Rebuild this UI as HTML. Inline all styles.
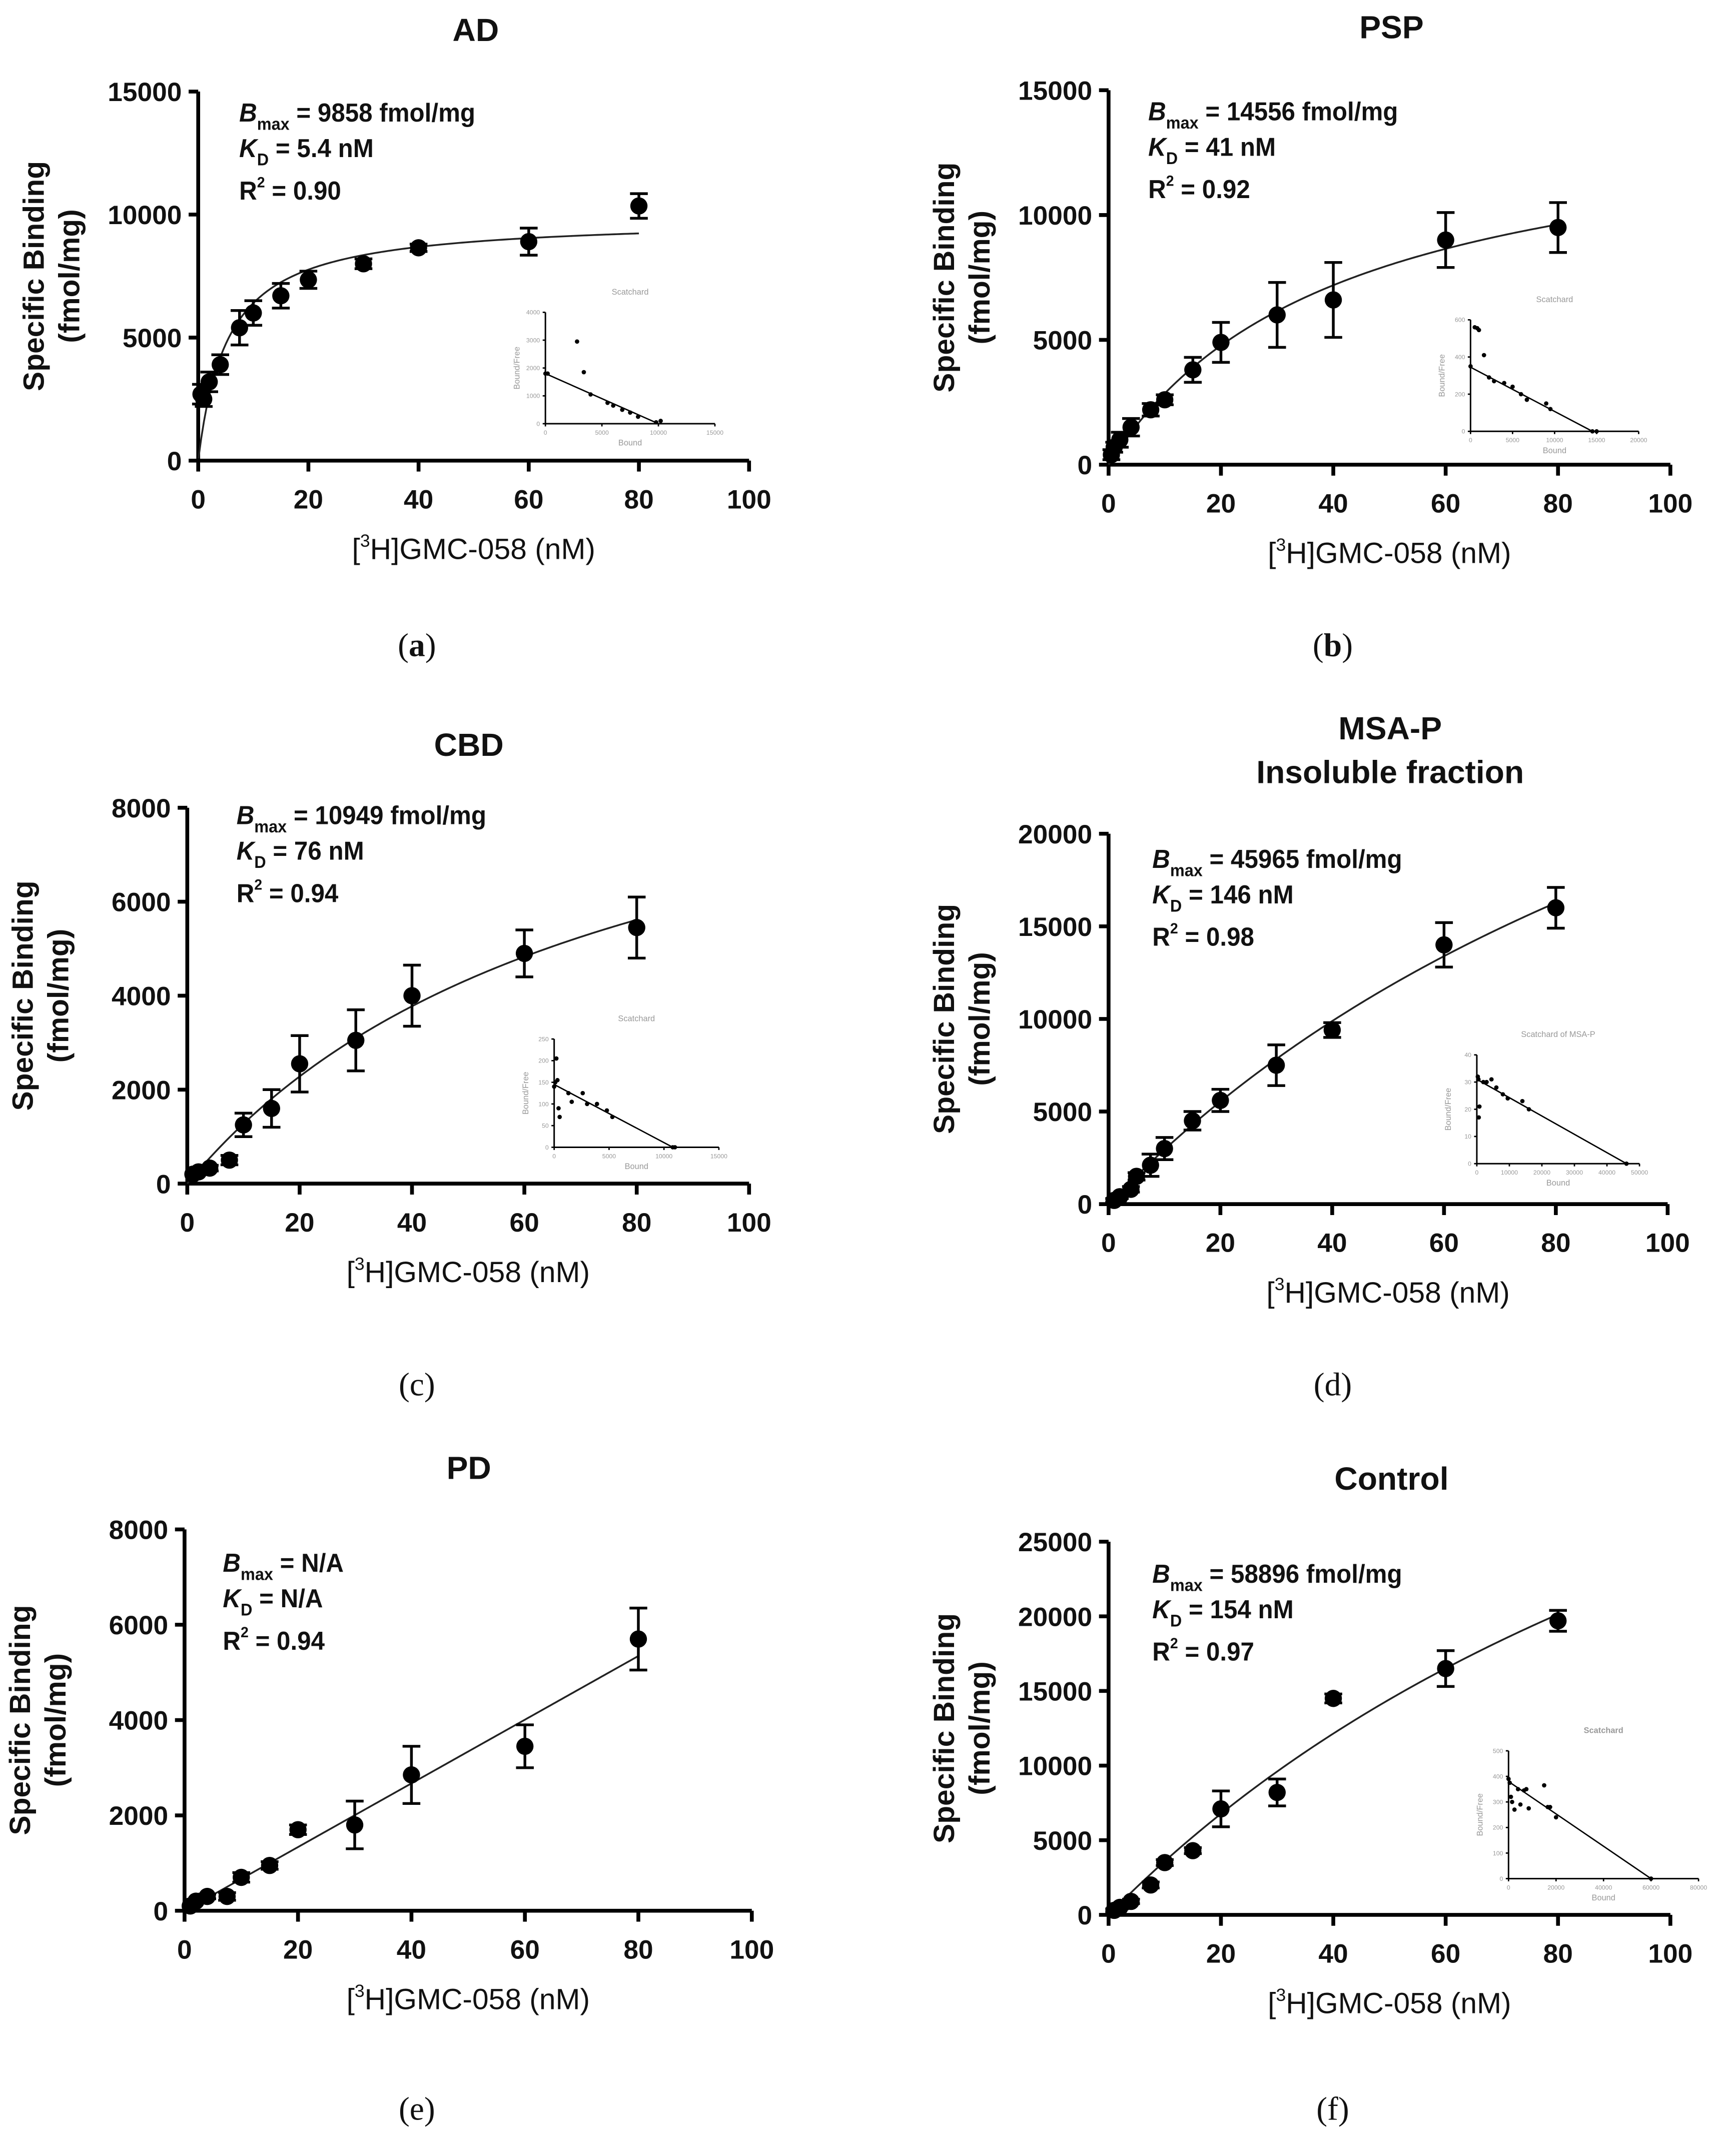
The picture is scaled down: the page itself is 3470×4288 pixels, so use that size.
<!DOCTYPE html>
<html><head><meta charset="utf-8">
<style>
html,body{margin:0;padding:0;background:#fff;}
svg{display:block;}
text{font-family:"Liberation Sans",Arial,sans-serif;fill:#111;}
.tick{font-size:19.5px;font-weight:bold;}
.ttl{font-size:23.5px;font-weight:bold;}
.axt{font-size:21.5px;}
.yt{font-size:21.5px;font-weight:bold;}
.ann{font-size:19px;font-weight:bold;}
.cap{font-family:"Liberation Serif",serif;font-size:24px;}
.itk{font-size:4.5px;fill:#999;}
.ilb{font-size:6px;fill:#999;}
</style></head>
<body>
<svg id="fig" width="3470" height="4288" viewBox="0 0 1270 1569.4" xmlns="http://www.w3.org/2000/svg"></svg>
<script>
// ---- Data ----
const concA = [0.5,1,2,4,7.5,10,15,20,30,40,60,80];
const bindA = [2700,2500,3200,3900,5400,6000,6700,7350,8000,8650,8900,10350];
const errA  = [400,300,400,400,700,500,500,350,200,150,550,500];
const fitA  = [9858,5.4];
const concB = [0.5,1,2,4,7.5,10,15,20,30,40,60,80];
const bindB = [400,700,1000,1500,2200,2600,3800,4900,6000,6600,9000,9500];
const errB  = [200,200,300,350,250,200,500,800,1300,1500,1100,1000];
const fitB  = [14556,41];
const concC = [1,2,4,7.5,10,15,20,30,40,60,80];
const bindC = [200,250,330,500,1250,1600,2550,3050,4000,4900,5450];
const errC  = [0,0,60,100,250,400,600,650,650,500,650];
const fitC  = [10949,76];
const concD = [1,2,4,5,7.5,10,15,20,30,40,60,80];
const bindD = [200,400,800,1500,2100,3000,4500,5600,7500,9400,14000,16000];
const errD  = [100,100,150,200,600,600,500,600,1100,400,1200,1100];
const fitD  = [45965,146];
const concE = [1,2,4,7.5,10,15,20,30,40,60,80];
const bindE = [100,200,300,300,700,950,1700,1800,2850,3450,5700];
const errE  = [0,0,50,80,100,80,100,500,600,450,650];
const slopeE = [66.8];
const concF = [1,2,4,7.5,10,15,20,30,40,60,80];
const bindF = [300,500,900,2000,3500,4300,7100,8200,14500,16500,19700];
const errF  = [100,100,150,200,200,200,1200,900,300,1200,700];
const fitF  = [58896,154];
const yTicksA = [0,5000,10000,15000];
const yTicksB = [0,5000,10000,15000];
const yTicksC = [0,2000,4000,6000,8000];
const yTicksD = [0,5000,10000,15000,20000];
const yTicksE = [0,2000,4000,6000,8000];
const yTicksF = [0,5000,10000,15000,20000,25000];
const xTicks = [0,20,40,60,80,100];
// Scatchard insets
const scBoundA = [0,200,2800,3400,4000,5500,6000,6800,7500,8200,9800,10200];
const scRatioA = [1800,1800,2950,1850,1050,750,650,500,400,250,50,100];
const scBoundB = [0,500,800,1000,1600,2200,2800,4000,5000,6000,6700,9000,9500,14500,15000];
const scRatioB = [350,560,555,545,410,290,270,260,240,200,170,150,120,0,0];
const scBoundC = [0,100,200,300,400,500,1300,1600,2600,3000,3900,4800,5300,10800,11000];
const scRatioC = [140,150,205,155,90,70,125,105,125,100,100,85,70,0,0];
const scBoundD = [300,500,800,600,2000,3000,4500,6000,8000,9500,14000,16000,46000];
const scRatioD = [32,31,21,17,30,30,31,28,25.5,24,23,20,0];
const scBoundF = [0,500,1000,1500,2500,4000,5000,6500,7500,8500,15000,16500,17500,20000,60000];
const scRatioF = [390,375,320,300,270,350,290,345,350,275,365,280,280,240,0];

const NS="http://www.w3.org/2000/svg";
const svg=document.getElementById('fig');
function mk(tag,attrs,parent,txt){const e=document.createElementNS(NS,tag);for(const k in attrs)e.setAttribute(k,attrs[k]);if(txt!==undefined)e.textContent=txt;(parent||svg).appendChild(e);return e;}

function panel(p){
  const g=mk('g',{});
  
  
  const sx=v=>p.x0+(v/100)*(p.x1-p.x0);
  const sy=v=>p.y0-(v/p.ymax)*(p.y0-p.y1);
  p.title.forEach((t,i)=>{const e=mk('text',{x:p.tx,y:p.ty+i*32,'text-anchor':'middle',class:'ttl'},g,t);
    });
  const ax=mk('path',{d:`M${p.x0},${p.y1} L${p.x0},${p.y0} L${p.x1},${p.y0}`,fill:'none',stroke:'#000','stroke-width':2.8},g);
  
  p.yt.forEach(v=>{
    mk('line',{x1:p.x0-7,x2:p.x0,y1:sy(v),y2:sy(v),stroke:'#000','stroke-width':2.8},g);
    const t=mk('text',{x:p.x0-12,y:sy(v)+7,'text-anchor':'end',class:'tick'},g,v);
    
  });
  xTicks.forEach(v=>{
    mk('line',{x1:sx(v),x2:sx(v),y1:p.y0,y2:p.y0+8,stroke:'#000','stroke-width':2.8},g);
    const t=mk('text',{x:sx(v),y:p.y0+35,'text-anchor':'middle',class:'tick'},g,v);
    
  });
  const xt=mk('text',{x:(p.x0+p.x1)/2,y:p.y0+72,'text-anchor':'middle',class:'axt'},g);
  
  mk('tspan',{},xt,'[');mk('tspan',{'font-size':'13px',dy:-9},xt,'3');mk('tspan',{dy:9},xt,'H]GMC-058 (nM)');
  const yc=(p.y0+p.y1)/2;
  const yt1=mk('text',{x:0,y:0,'text-anchor':'middle',class:'yt',transform:`translate(${p.x0-113},${yc}) rotate(-90)`},g,'Specific Binding');
  
  const yt2=mk('text',{x:0,y:0,'text-anchor':'middle',class:'yt',transform:`translate(${p.x0-87},${yc}) rotate(-90)`},g,'(fmol/mg)');
  
  const an=mk('g',{transform:`translate(${p.ax},${p.ay})`},g);
  
  const a1=mk('text',{x:0,y:0,class:'ann',transform:'scale(0.95,1)'},an);
  mk('tspan',{'font-style':'italic'},a1,'B');mk('tspan',{'font-size':'12.5px',dy:6},a1,'max');mk('tspan',{dy:-6},a1,' = '+p.bmax);
  const a2=mk('text',{x:0,y:26,class:'ann',transform:'scale(0.95,1)'},an);
  mk('tspan',{'font-style':'italic'},a2,'K');mk('tspan',{'font-size':'12.5px',dy:6},a2,'D');mk('tspan',{dy:-6},a2,' = '+p.kd);
  const a3=mk('text',{x:0,y:57,class:'ann',transform:'scale(0.95,1)'},an);
  mk('tspan',{},a3,'R');mk('tspan',{'font-size':'11px',dy:-9},a3,'2');mk('tspan',{dy:9},a3,' = '+p.r2);
  let d='';
  for(let i=0;i<=160;i++){const c=p.fitStart+(80-p.fitStart)*i/160;const v=p.fit(c);d+=(i?'L':'M')+sx(c).toFixed(2)+','+sy(v).toFixed(2);}
  const fl=mk('path',{d:d,fill:'none',stroke:'#222','stroke-width':1.3},g);
  
  p.cx.forEach((c,i)=>{
    const x=sx(c),y=sy(p.by[i]),e=p.er[i];
    if(e>0){
      const eb=mk('path',{d:`M${x},${sy(p.by[i]+e)}L${x},${sy(p.by[i]-e)}M${x-6.5},${sy(p.by[i]+e)}L${x+6.5},${sy(p.by[i]+e)}M${x-6.5},${sy(p.by[i]-e)}L${x+6.5},${sy(p.by[i]-e)}`,stroke:'#000','stroke-width':2,fill:'none'},g);
      
    }
    const pt=mk('circle',{cx:x,cy:y,r:6.3,fill:'#000'},g);
    
  });
  const cp=mk('text',{x:p.capx,y:p.capy,'text-anchor':'middle',class:'cap'},g);
  
  mk('tspan',{},cp,'(');mk('tspan',{'font-weight':p.capBold?'bold':'normal'},cp,p.id);mk('tspan',{},cp,')');
  if(p.inset) inset(p.inset,g);
}

function inset(s,parent){
  const g=mk('g',{},parent);
  
  
  const sx=v=>s.ox+v/s.xmax*s.w;
  const sy=v=>s.oy-v/s.ymax*s.h;
  mk('text',{x:s.ox+s.w*0.5,y:s.oy-s.h-13,'text-anchor':'middle',class:'ilb','font-weight':s.boldTitle?'bold':'normal',fill:s.boldTitle?'#333':'#999'},g,s.title);
  mk('path',{d:`M${s.ox},${s.oy-s.h}L${s.ox},${s.oy}L${s.ox+s.w},${s.oy}`,stroke:'#000','stroke-width':1.1,fill:'none'},g);
  s.yt.forEach(v=>{mk('line',{x1:s.ox-2,x2:s.ox,y1:sy(v),y2:sy(v),stroke:'#000','stroke-width':1},g);
    mk('text',{x:s.ox-4,y:sy(v)+1.6,'text-anchor':'end',class:'itk'},g,v);});
  s.xt.forEach(v=>{mk('line',{x1:sx(v),x2:sx(v),y1:s.oy,y2:s.oy+2,stroke:'#000','stroke-width':1},g);
    mk('text',{x:sx(v),y:s.oy+8,'text-anchor':'middle',class:'itk'},g,v);});
  mk('text',{x:s.ox+s.w*0.5,y:s.oy+16,'text-anchor':'middle',class:'ilb'},g,'Bound');
  mk('text',{x:0,y:0,'text-anchor':'middle',class:'ilb',transform:`translate(${s.ox-19},${s.oy-s.h/2}) rotate(-90)`},g,'Bound/Free');
  const ln=mk('line',{x1:sx(s.line[0]),y1:sy(s.line[1]),x2:sx(s.line[2]),y2:sy(s.line[3]),stroke:'#000','stroke-width':1},g);
  
  s.bx.forEach((b,i)=>{const c=mk('circle',{cx:sx(b),cy:sy(s.by[i]),r:1.6,fill:'#000'},g);
    });
}

const hyp=f=>c=>f[0]*c/(f[1]+c);
panel({id:'a',capBold:true,title:['AD'],tx:348,ty:30,x0:145,x1:548,y0:337,y1:67,ymax:15000,yt:yTicksA,ax:175,ay:89,
  bmax:'9858 fmol/mg',kd:'5.4 nM',r2:'0.90',fit:hyp(fitA),fitStart:0.05,cx:concA,by:bindA,er:errA,capx:305,capy:480,
  inset:{title:'Scatchard',ox:399,oy:310,w:124,h:81.5,xmax:15000,ymax:4000,xt:[0,5000,10000,15000],yt:[0,1000,2000,3000,4000],bx:scBoundA,by:scRatioA,line:[0,1800,10000,0]}});
panel({id:'b',capBold:true,title:['PSP'],tx:1018,ty:28,x0:811,x1:1222,y0:340,y1:66,ymax:15000,yt:yTicksB,ax:840,ay:88,
  bmax:'14556 fmol/mg',kd:'41 nM',r2:'0.92',fit:hyp(fitB),fitStart:0,cx:concB,by:bindB,er:errB,capx:975,capy:480,
  inset:{title:'Scatchard',ox:1075.8,oy:315.6,w:123,h:81.6,xmax:20000,ymax:600,xt:[0,5000,10000,15000,20000],yt:[0,200,400,600],bx:scBoundB,by:scRatioB,line:[0,345,14500,0]}});
panel({id:'c',title:['CBD'],tx:343,ty:553,x0:137,x1:548,y0:866,y1:591,ymax:8000,yt:yTicksC,ax:173,ay:603,
  bmax:'10949 fmol/mg',kd:'76 nM',r2:'0.94',fit:hyp(fitC),fitStart:0,cx:concC,by:bindC,er:errC,capx:305,capy:1021,
  inset:{title:'Scatchard',ox:405.4,oy:839.4,w:120.5,h:79.2,xmax:15000,ymax:250,xt:[0,5000,10000,15000],yt:[0,50,100,150,200,250],bx:scBoundC,by:scRatioC,line:[0,145,10800,0]}});
panel({id:'d',title:['MSA-P','Insoluble fraction'],tx:1017,ty:541,x0:811,x1:1220,y0:881,y1:610,ymax:20000,yt:yTicksD,ax:843,ay:635,
  bmax:'45965 fmol/mg',kd:'146 nM',r2:'0.98',fit:hyp(fitD),fitStart:0,cx:concD,by:bindD,er:errD,capx:975,capy:1021,
  inset:{title:'Scatchard of MSA-P',ox:1080.4,oy:851.4,w:119,h:79.6,xmax:50000,ymax:40,xt:[0,10000,20000,30000,40000,50000],yt:[0,10,20,30,40],bx:scBoundD,by:scRatioD,line:[0,31,46000,0]}});
panel({id:'e',title:['PD'],tx:343,ty:1082,x0:135,x1:550,y0:1398,y1:1119,ymax:8000,yt:yTicksE,ax:163,ay:1150,
  bmax:'N/A',kd:'N/A',r2:'0.94',fit:c=>slopeE[0]*c,fitStart:0,cx:concE,by:bindE,er:errE,capx:305,capy:1551});
panel({id:'f',title:['Control'],tx:1018,ty:1090,x0:811,x1:1222,y0:1401,y1:1128,ymax:25000,yt:yTicksF,ax:843,ay:1158,
  bmax:'58896 fmol/mg',kd:'154 nM',r2:'0.97',fit:hyp(fitF),fitStart:0,cx:concF,by:bindF,er:errF,capx:975,capy:1551,
  inset:{title:'Scatchard',boldTitle:true,ox:1103.6,oy:1374.5,w:139,h:93.5,xmax:80000,ymax:500,xt:[0,20000,40000,60000,80000],yt:[0,100,200,300,400,500],bx:scBoundF,by:scRatioF,line:[0,380,60000,0]}});
</script>
</body></html>
